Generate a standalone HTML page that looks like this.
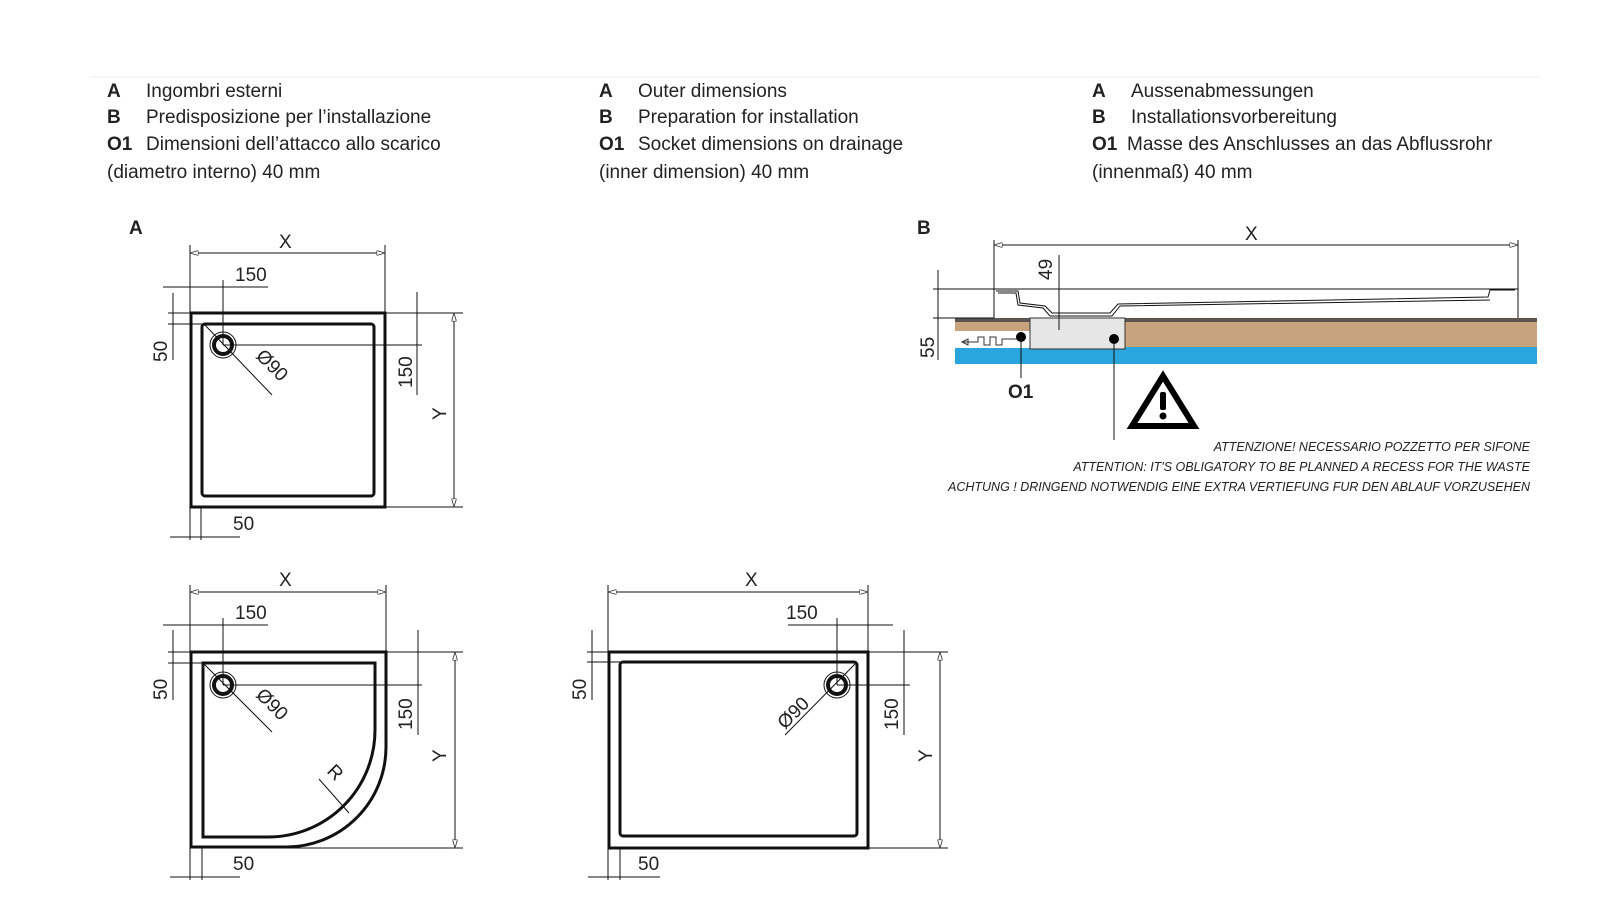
<!DOCTYPE html>
<html><head><meta charset="utf-8"><style>
html,body{margin:0;padding:0;background:#fff}
svg{display:block}
text{font-family:"Liberation Sans",sans-serif;fill:#222}
.t{font-size:19px}
.d{font-size:19px}
.w{font-size:12.5px;font-style:italic}
</style></head><body>
<svg width="1620" height="912" viewBox="0 0 1620 912" xmlns="http://www.w3.org/2000/svg">
<defs>
<marker id="a" viewBox="0 0 10 6" refX="10" refY="3" markerWidth="9" markerHeight="5" orient="auto-start-reverse"><path d="M0,0 L10,3 L0,6 z" fill="#fff" stroke="#333" stroke-width="1"/></marker>
</defs>
<line x1="90" y1="77" x2="1540" y2="77" stroke="#eee" stroke-width="1"/>
<g class="t">
<text x="107" y="97" font-weight="bold" fill="#555">A</text><text x="146" y="97">Ingombri esterni</text>
<text x="107" y="123" font-weight="bold" fill="#555">B</text><text x="146" y="123">Predisposizione per l’installazione</text>
<text x="107" y="150" font-weight="bold" fill="#555">O1</text><text x="146" y="150">Dimensioni dell’attacco allo scarico</text>
<text x="107" y="178">(diametro interno) 40 mm</text>
<text x="599" y="97" font-weight="bold" fill="#555">A</text><text x="638" y="97">Outer dimensions</text>
<text x="599" y="123" font-weight="bold" fill="#555">B</text><text x="638" y="123">Preparation for installation</text>
<text x="599" y="150" font-weight="bold" fill="#555">O1</text><text x="638" y="150">Socket dimensions on drainage</text>
<text x="599" y="178">(inner dimension) 40 mm</text>
<text x="1092" y="97" font-weight="bold" fill="#555">A</text><text x="1131" y="97">Aussenabmessungen</text>
<text x="1092" y="123" font-weight="bold" fill="#555">B</text><text x="1131" y="123">Installationsvorbereitung</text>
<text x="1092" y="150" font-weight="bold" fill="#555">O1</text><text x="1127" y="150">Masse des Anschlusses an das Abflussrohr</text>
<text x="1092" y="178">(innenmaß) 40 mm</text>
</g>
<text x="129" y="234" class="t" font-weight="bold" fill="#555">A</text>
<text x="917" y="234" class="t" font-weight="bold" fill="#555">B</text>

<!-- Square -->
<g stroke="#111" fill="none">
<rect x="191" y="313" width="194" height="194" stroke-width="3"/>
<rect x="202" y="324" width="172" height="172" rx="3" stroke-width="3"/>
<circle cx="223" cy="345" r="13" stroke-width="1"/>
<circle cx="223" cy="345" r="9" stroke-width="4"/>
<g stroke-width="1">
<line x1="190" y1="245" x2="190" y2="540"/><line x1="385" y1="245" x2="385" y2="313"/>
<line x1="190" y1="253" x2="385" y2="253" marker-start="url(#a)" marker-end="url(#a)"/>
<line x1="163" y1="287" x2="268" y2="287"/><line x1="223" y1="280" x2="223" y2="345"/>
<line x1="173" y1="293" x2="173" y2="360"/><line x1="168" y1="313" x2="191" y2="313"/><line x1="168" y1="324" x2="202" y2="324"/>
<line x1="203" y1="323" x2="272" y2="395"/>
<line x1="223" y1="345" x2="422" y2="345"/><line x1="385" y1="313" x2="463" y2="313"/><line x1="385" y1="507" x2="463" y2="507"/>
<line x1="417" y1="292" x2="417" y2="395"/>
<line x1="454" y1="313" x2="454" y2="507" marker-start="url(#a)" marker-end="url(#a)"/>
<line x1="201" y1="507" x2="201" y2="540"/><line x1="170" y1="537" x2="240" y2="537"/>
</g></g>
<text x="279" y="248" class="d">X</text>
<text x="235" y="281" class="d">150</text>
<text x="233" y="530" class="d">50</text>
<text transform="translate(167,362) rotate(-90)" class="d">50</text>
<text transform="translate(412,388) rotate(-90)" class="d">150</text>
<text transform="translate(446,420) rotate(-90)" class="d">Y</text>
<text transform="translate(255,357) rotate(45)" class="d">Ø90</text>

<!-- Quarter -->
<g stroke="#111" fill="none">
<path d="M191,652 H386 V747 A100,100 0 0 1 286,847 H191 Z" stroke-width="3"/>
<path d="M203,663 H375 V730 A107,107 0 0 1 268,837 H203 Z" stroke-width="3"/>
<circle cx="223" cy="685" r="13" stroke-width="1"/>
<circle cx="223" cy="685" r="9" stroke-width="4"/>
<g stroke-width="1">
<line x1="190" y1="585" x2="190" y2="880"/><line x1="386" y1="585" x2="386" y2="652"/>
<line x1="190" y1="592" x2="386" y2="592" marker-start="url(#a)" marker-end="url(#a)"/>
<line x1="163" y1="625" x2="268" y2="625"/><line x1="223" y1="618" x2="223" y2="685"/>
<line x1="173" y1="630" x2="173" y2="700"/><line x1="168" y1="652" x2="191" y2="652"/><line x1="168" y1="663" x2="203" y2="663"/>
<line x1="203" y1="663" x2="272" y2="732"/>
<line x1="223" y1="685" x2="422" y2="685"/><line x1="386" y1="652" x2="463" y2="652"/><line x1="286" y1="848" x2="463" y2="848"/>
<line x1="418" y1="630" x2="418" y2="735"/>
<line x1="455" y1="652" x2="455" y2="848" marker-start="url(#a)" marker-end="url(#a)"/>
<line x1="202" y1="848" x2="202" y2="880"/><line x1="170" y1="877" x2="240" y2="877"/>
<line x1="319" y1="779" x2="349" y2="813"/>
</g></g>
<text x="279" y="586" class="d">X</text>
<text x="235" y="619" class="d">150</text>
<text x="233" y="870" class="d">50</text>
<text transform="translate(167,700) rotate(-90)" class="d">50</text>
<text transform="translate(412,730) rotate(-90)" class="d">150</text>
<text transform="translate(446,762) rotate(-90)" class="d">Y</text>
<text transform="translate(255,696) rotate(45)" class="d">Ø90</text>
<text transform="translate(326,772) rotate(45)" class="d">R</text>

<!-- Rect -->
<g stroke="#111" fill="none">
<rect x="609" y="652" width="259" height="196" stroke-width="3"/>
<rect x="620" y="662" width="237" height="174" rx="3" stroke-width="3"/>
<circle cx="837" cy="685" r="13" stroke-width="1"/>
<circle cx="837" cy="685" r="9" stroke-width="4"/>
<g stroke-width="1">
<line x1="608" y1="585" x2="608" y2="880"/><line x1="868" y1="585" x2="868" y2="652"/>
<line x1="608" y1="592" x2="868" y2="592" marker-start="url(#a)" marker-end="url(#a)"/>
<line x1="788" y1="625" x2="893" y2="625"/><line x1="837" y1="618" x2="837" y2="685"/>
<line x1="592" y1="630" x2="592" y2="700"/><line x1="587" y1="652" x2="609" y2="652"/><line x1="587" y1="662" x2="620" y2="662"/>
<line x1="857" y1="662" x2="785" y2="735"/>
<line x1="837" y1="685" x2="910" y2="685"/><line x1="868" y1="652" x2="948" y2="652"/><line x1="868" y1="848" x2="948" y2="848"/>
<line x1="904" y1="630" x2="904" y2="735"/>
<line x1="940" y1="652" x2="940" y2="848" marker-start="url(#a)" marker-end="url(#a)"/>
<line x1="620" y1="848" x2="620" y2="880"/><line x1="588" y1="877" x2="660" y2="877"/>
</g></g>
<text x="745" y="586" class="d">X</text>
<text x="786" y="619" class="d">150</text>
<text x="638" y="870" class="d">50</text>
<text transform="translate(586,700) rotate(-90)" class="d">50</text>
<text transform="translate(898,730) rotate(-90)" class="d">150</text>
<text transform="translate(932,762) rotate(-90)" class="d">Y</text>
<text transform="translate(785,730) rotate(-45)" class="d">Ø90</text>

<!-- B section -->
<rect x="955" y="318" width="582" height="4" fill="#5a5550"/>
<rect x="955" y="322" width="582" height="26" fill="#c8a47e"/>
<rect x="955" y="347" width="582" height="17" fill="#2aa6dc"/>
<rect x="955" y="331" width="75" height="17" fill="#fff"/>
<rect x="1030" y="318" width="95" height="31" fill="#e6e6e6" stroke="#333" stroke-width="1"/>
<path d="M962,342 L978,342 L978,337 L984,337 L984,345 L990,345 L990,337 L996,337 L996,345 L1002,345 L1002,339 L1020,339" stroke="#333" fill="none" stroke-width="1"/>
<path d="M962,342 L968,339 L968,345 Z" fill="none" stroke="#333"/>
<circle cx="1021" cy="337" r="5" fill="#000"/>
<circle cx="1114" cy="339" r="5" fill="#000"/>
<g stroke="#111" stroke-width="1" fill="none">
<line x1="1021" y1="337" x2="1021" y2="378"/>
<line x1="1114" y1="339" x2="1114" y2="440"/>
<line x1="994" y1="240" x2="994" y2="318"/><line x1="1518" y1="240" x2="1518" y2="318"/>
<line x1="994" y1="245" x2="1518" y2="245" marker-start="url(#a)" marker-end="url(#a)"/>
<line x1="933" y1="289" x2="1518" y2="289"/>
<line x1="933" y1="318" x2="994" y2="318"/>
<path d="M996,291 L1018,291 L1020,303 L1045,306 L1052,313 L1110,313 L1118,304 L1488,297 L1490,290 L1515,290"/>
<path d="M998,293 L1016,293 L1018,305 L1043,308 L1050,316 L1112,316 L1120,306 L1490,300"/>
<line x1="1059" y1="255" x2="1059" y2="330"/>
<line x1="938" y1="270" x2="938" y2="360"/>
</g>
<text x="1245" y="240" class="d">X</text>
<text transform="translate(1052,280) rotate(-90)" class="d">49</text>
<text transform="translate(934,358) rotate(-90)" class="d">55</text>
<text x="1008" y="398" class="t" font-weight="bold">O1</text>
<path d="M1163,376 L1194,426 L1132,426 Z" fill="none" stroke="#000" stroke-width="6" stroke-linejoin="miter"/>
<rect x="1160" y="392" width="6" height="18" rx="2" fill="#000"/>
<circle cx="1163" cy="416" r="3.5" fill="#000"/>
<g class="w" text-anchor="end">
<text x="1530" y="451">ATTENZIONE! NECESSARIO POZZETTO PER SIFONE</text>
<text x="1530" y="471">ATTENTION: IT'S OBLIGATORY TO BE PLANNED A RECESS FOR THE WASTE</text>
<text x="1530" y="491">ACHTUNG ! DRINGEND NOTWENDIG EINE EXTRA VERTIEFUNG FUR DEN ABLAUF VORZUSEHEN</text>
</g>
</svg>
</body></html>
